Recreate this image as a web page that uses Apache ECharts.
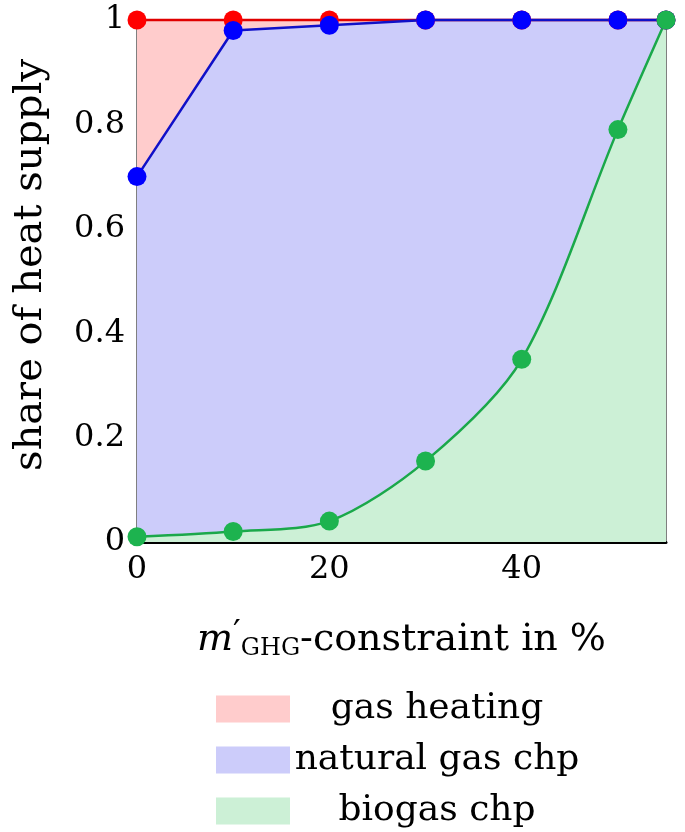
<!DOCTYPE html>
<html>
<head>
<meta charset="utf-8">
<script src="https://cdn.jsdelivr.net/npm/echarts@6/dist/echarts.min.js"></script>
<style>
html,body{margin:0;padding:0;background:#fff;}
#chart{width:685px;height:832px;}
</style>
</head>
<body>
<div id="chart"></div>
<script>
// x positions: m'_GHG constraint in %
const constraintPct = [0, 10, 20, 30, 40, 50, 55];
// cumulative upper boundaries of each heat-supply share
const gasHeatingTop    = [1, 1, 1, 1, 1, 1, 1];
const naturalGasChpTop = [0.70, 0.98, 0.99, 1, 1, 1, 1];
const biogasChpTop     = [0.01, 0.02, 0.04, 0.155, 0.35, 0.79, 1];
const seriesNames = ['gas heating', 'natural gas chp', 'biogas chp'];

const FONT = 'DejaVu Serif';
const fills = ['#ffcccc', '#ccccfa', '#ccf0d6'];
const lineColors = ['#e00000', '#1010c8', '#1aa84a'];
const markColors = ['#ff0000', '#0000ff', '#1db34f'];

function pairs(ys) { return constraintPct.map((x, i) => [x, ys[i]]); }

const chart = echarts.init(document.getElementById('chart'), null, {renderer: 'canvas'});
const dataSets = [gasHeatingTop, naturalGasChpTop, biogasChpTop];
const series = dataSets.map((d, i) => ({
  name: seriesNames[i],
  type: 'line',
  data: pairs(d),
  smooth: i === 2 ? 0.3 : false,
  clip: false,
  symbol: 'circle',
  symbolSize: 19,
  showAllSymbol: true,
  lineStyle: {color: lineColors[i], width: 2.5},
  itemStyle: {color: markColors[i]},
  areaStyle: {color: fills[i], opacity: 1},
  emphasis: {disabled: true},
  animation: false
}));

chart.setOption({
  animation: false,
  grid: {left: 137, right: 19, top: 20, bottom: 290, show: true, borderColor: '#000', borderWidth: 1, backgroundColor: 'transparent'},
  xAxis: {
    type: 'value', min: 0, max: 55, interval: 20,
    axisLine: {show: true, lineStyle: {color: '#000', width: 3}},
    axisTick: {show: false},
    splitLine: {show: false},
    axisLabel: {showMaxLabel: false, color: '#000', fontFamily: FONT, fontSize: 32, margin: 12},
    name: '{m|m}{p|′}{s|GHG}{t|-constraint in %}',
    nameLocation: 'middle',
    nameGap: 76,
    nameTextStyle: {
      color: '#000', fontFamily: FONT, fontSize: 38,
      rich: {
        m: {fontFamily: FONT, fontStyle: 'italic', fontSize: 38, color: '#000'},
        p: {fontFamily: FONT, fontSize: 34, color: '#000', padding: [0, 0, 10, 0]},
        s: {fontFamily: FONT, fontSize: 24, color: '#000', padding: [18, 0, 0, 0]},
        t: {fontFamily: FONT, fontSize: 38, color: '#000'}
      }
    }
  },
  yAxis: {
    type: 'value', min: 0, max: 1, interval: 0.2,
    axisLine: {show: true, lineStyle: {color: '#000', width: 1}},
    axisTick: {show: false},
    splitLine: {show: false},
    axisLabel: {color: '#000', fontFamily: FONT, fontSize: 32, margin: 12,
      formatter: v => String(+v.toFixed(1))},
    name: 'share of heat supply',
    nameLocation: 'middle',
    nameGap: 86,
    nameTextStyle: {color: '#000', fontFamily: FONT, fontSize: 40, padding: [0, 0, 0, 32]}
  },
  legend: {
    orient: 'vertical',
    left: 216, top: 691, bottom: 0,
    padding: 0,
    itemWidth: 74, itemHeight: 27, itemGap: 15,
    selectedMode: false,
    data: seriesNames.map((n, i) => ({name: n, icon: 'rect', itemStyle: {color: fills[i], borderWidth: 0}})),
    textStyle: {
      rich: {c: {width: 284, align: 'center', fontFamily: FONT, fontSize: 36, lineHeight: 36, color: '#000'}}
    },
    formatter: n => '{c|' + n + '}'
  },
  series: series
});
</script>
</body>
</html>
